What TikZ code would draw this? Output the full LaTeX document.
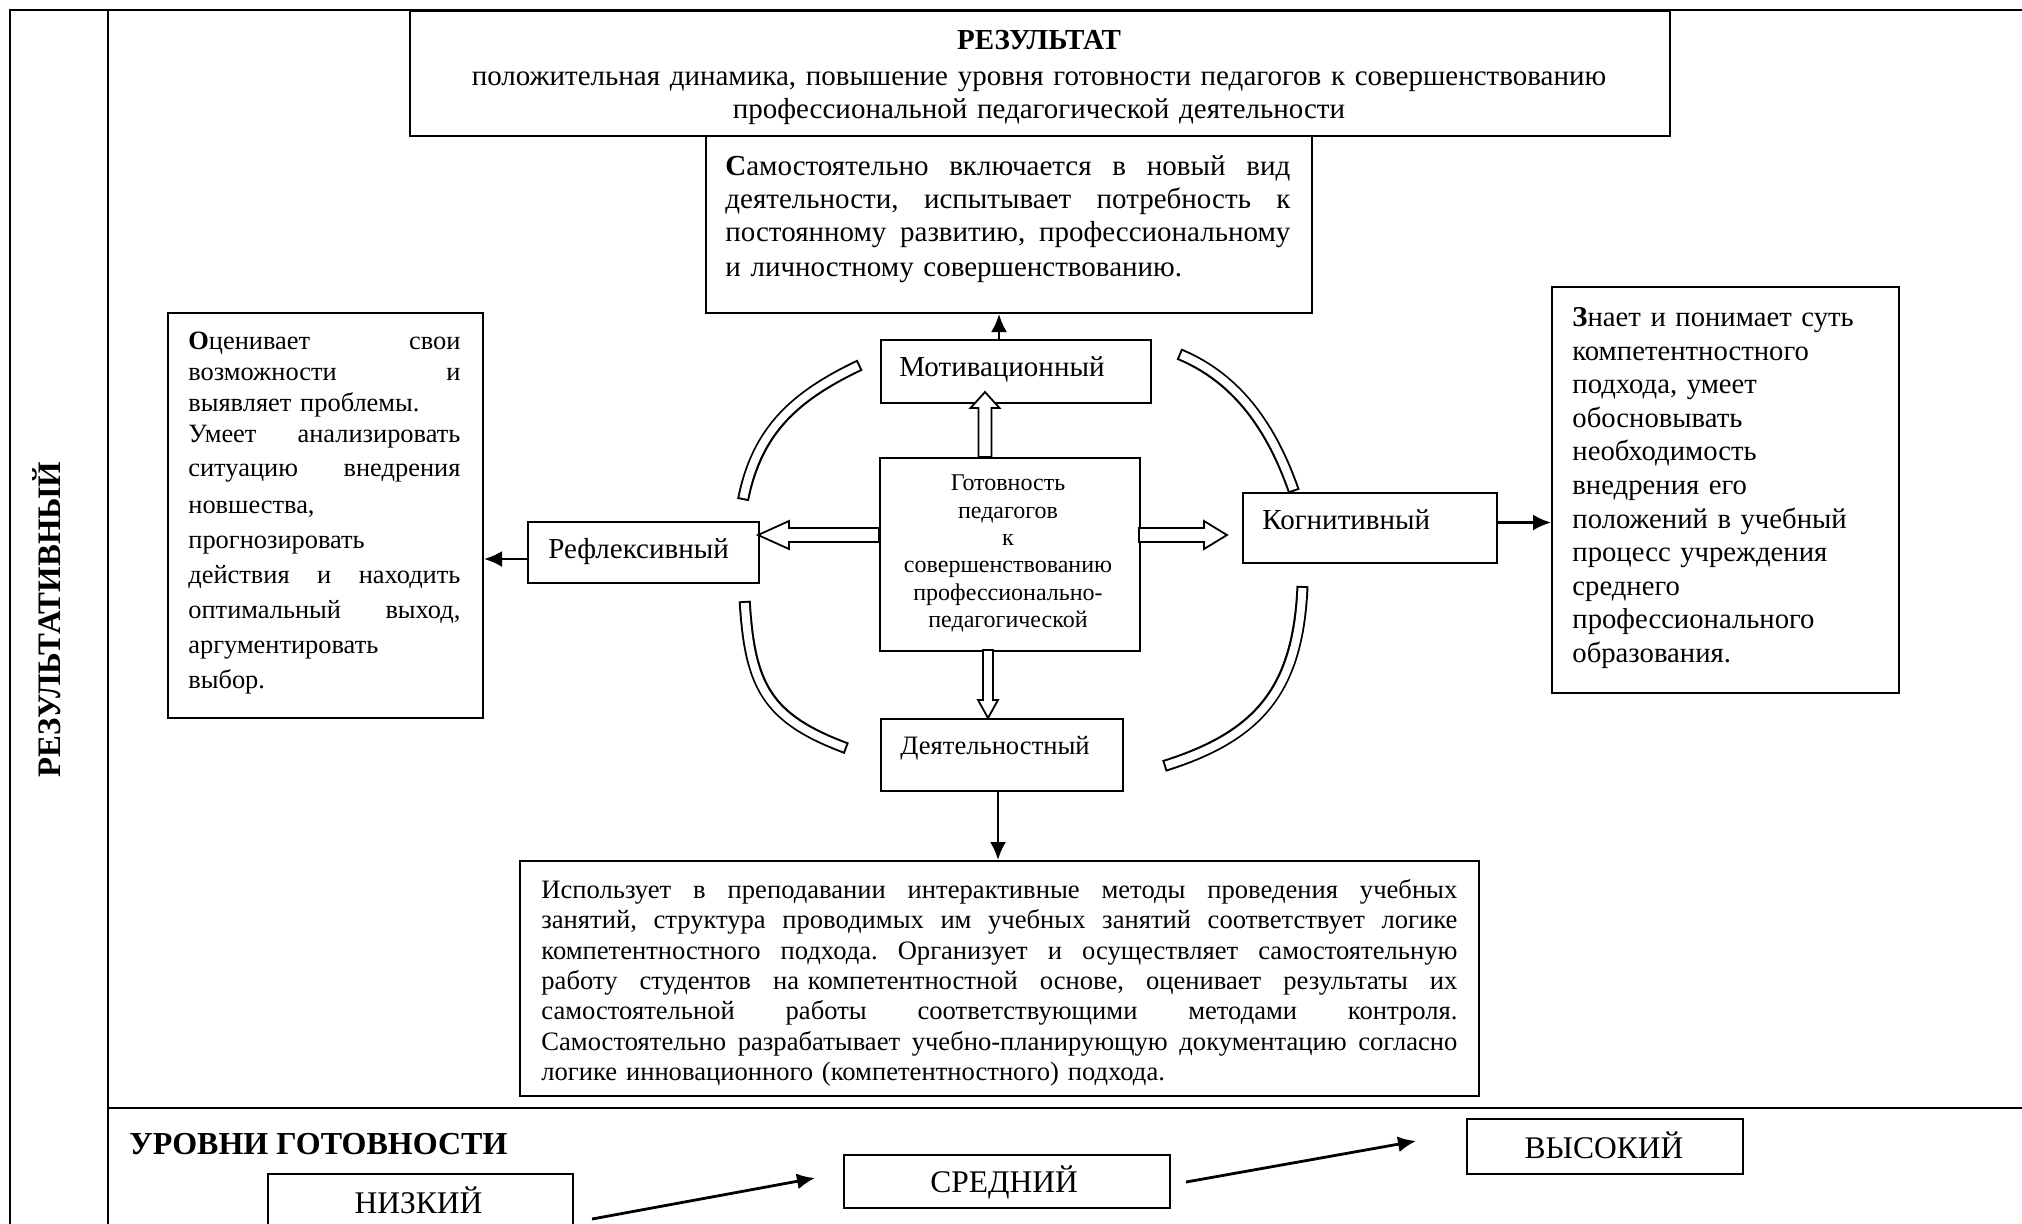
\documentclass[tikz,border=0pt]{standalone}
\usepackage{fontspec}
\setmainfont{Liberation Serif}
\usetikzlibrary{arrows.meta,calc}
\frenchspacing
\newcommand{\fs}[2]{\fontsize{#1}{#2}\selectfont}
\newcommand{\jl}[2]{\leavevmode\hbox to #1{#2}}
\newcommand{\band}[1]{\draw[line width=6pt] #1; \draw[line width=4pt, white, shorten <=1pt, shorten >=1pt] #1;}
\begin{document}
\begin{tikzpicture}[x=0.5pt,y=-0.5pt,
  boxn/.style={draw, line width=1pt, inner sep=0pt, anchor=north west},
  txt/.style={inner sep=0pt},
  frame/.style={line width=1.15pt},
  arr/.style={line width=1.25pt, -{Latex[length=9pt,width=8pt]}},
  blk/.style={draw, line width=0.9pt, fill=white, line join=miter},
  lbl/.style={inner sep=0pt, anchor=base west, font=\fs{14.5}{17}},
  lvl/.style={inner sep=0pt, anchor=base, font=\fs{15.75}{18}},
  ]
\useasboundingbox (0,0) rectangle (2022,1223);
\clip (0,0) rectangle (2022,1223);
\fill[white] (0,0) rectangle (2022,1223);

% frame
\draw[frame] (10,1240) -- (10,10) -- (2040,10);
\draw[frame] (108,10) -- (108,1240);
\draw[frame] (108,1108) -- (2040,1108);

\node[txt, rotate=90, anchor=base, font=\fs{16.4}{18}\bfseries] (vert) at (60,619.5) {РЕЗУЛЬТАТИВНЫЙ};

% boxes
\node[boxn, minimum width=630pt, minimum height=62.5pt] (res) at (409,10) {};
\node[boxn, minimum width=303pt, minimum height=88.5pt] (sam) at (705,135) {};
\node[boxn, minimum width=157.5pt, minimum height=202.5pt] (ocen) at (167,312) {};
\node[boxn, minimum width=173.5pt, minimum height=203pt] (znaet) at (1551,286) {};
\node[boxn, minimum width=135pt, minimum height=31.5pt] (motiv) at (880,339) {};
\node[boxn, minimum width=130pt, minimum height=96.5pt] (gotov) at (879,457) {};
\node[boxn, minimum width=115.5pt, minimum height=30.5pt] (refl) at (527,521) {};
\node[boxn, minimum width=127pt, minimum height=35pt] (kogn) at (1242,492) {};
\node[boxn, minimum width=121pt, minimum height=36pt] (deyat) at (880,718) {};
\node[boxn, minimum width=479.5pt, minimum height=117.5pt] (ispol) at (519,860) {};
\node[boxn, minimum width=152.5pt, minimum height=29pt] (nizk) at (267,1173) {};
\node[boxn, minimum width=163pt, minimum height=26.5pt] (sred) at (843,1154) {};
\node[boxn, minimum width=138pt, minimum height=27.5pt] (vys) at (1466,1118) {};

% texts
\node[txt, anchor=north, text width=640pt, align=center, font=\fs{14.5}{16.5}] (restext) at (1039,26)
  {\strut\textbf{РЕЗУЛЬТАТ}\\[1.5pt]
   положительная динамика, повышение уровня готовности педагогов к совершенствованию\\
   профессиональной педагогической деятельности};

\node[txt, anchor=north west, text width=282.5pt, font=\fs{14.5}{16.5}] (samtext) at (725,152)
  {\noindent\strut\jl{282.5pt}{\textbf{С}амостоятельно \hfill включается \hfill в \hfill новый \hfill вид}\\
   \jl{282.5pt}{деятельности, \hfill испытывает \hfill потребность \hfill к}\\
   \jl{282.5pt}{постоянному \hfill развитию, \hfill профессиональному}\\[1.2pt]
   и личностному совершенствованию.};

\node[txt, anchor=north west, text width=136pt, font=\fs{13.2}{15.5}] (ocentext) at (188,327.3)
  {\noindent\strut\jl{136pt}{\textbf{О}ценивает \hfill свои}\\
   \jl{136pt}{возможности \hfill и}\\
   выявляет проблемы.\\
   \jl{136pt}{Умеет \hfill анализировать}\\[1.5pt]
   \jl{136pt}{ситуацию \hfill внедрения}\\[3pt]
   новшества,\\[2pt]
   прогнозировать\\[2pt]
   \jl{136pt}{действия \hfill и \hfill находить}\\[2pt]
   \jl{136pt}{оптимальный \hfill выход,}\\[2pt]
   аргументировать\\[2pt]
   выбор.};

\node[txt, anchor=north west, text width=160pt, align=left, font=\fs{14.35}{16.8}] (znaettext) at (1572,302.5)
  {\strut\textbf{З}нает и понимает суть\\
   компетентностного\\
   подхода, умеет\\
   обосновывать\\
   необходимость\\
   внедрения его\\
   положений в учебный\\
   процесс учреждения\\
   среднего\\
   профессионального\\
   образования.};

\node[txt, anchor=north west, text width=458pt, font=\fs{13.3}{15.15}] (ispoltext) at (541,877)
  {\noindent\strut\jl{458pt}{Использует \hfill в \hfill преподавании \hfill интерактивные \hfill методы \hfill проведения \hfill учебных}\\
   \jl{458pt}{занятий, \hfill структура \hfill проводимых \hfill им \hfill учебных \hfill занятий \hfill соответствует \hfill логике}\\
   \jl{458pt}{компетентностного \hfill подхода. \hfill Организует \hfill и \hfill осуществляет \hfill самостоятельную}\\
   \jl{458pt}{работу \hfill студентов \hfill на компетентностной \hfill основе, \hfill оценивает \hfill результаты \hfill их}\\
   \jl{458pt}{самостоятельной \hfill работы \hfill соответствующими \hfill методами \hfill контроля.}\\
   \jl{458pt}{Самостоятельно \hfill разрабатывает \hfill учебно-планирующую \hfill документацию \hfill согласно}\\
   логике инновационного (компетентностного) подхода.};

\node[txt, anchor=north, text width=125pt, align=center, font=\fs{12}{13.7}] (gotovtext) at (1008,471.2)
  {\strut Готовность\\ педагогов\\ к\\ совершенствованию\\ профессионально-\\ педагогической};

\node[lbl] (motivtext) at (899,376) {Мотивационный};
\node[lbl] (refltext) at (548,558) {Рефлексивный};
\node[lbl] (kogntext) at (1262,529) {Когнитивный};
\node[lbl, font=\fs{13.3}{16}] (deyattext) at (900,754) {Деятельностный};

\node[txt, anchor=base west, font=\fs{16}{18}\bfseries] (urovni) at (129,1154) {УРОВНИ ГОТОВНОСТИ};
\node[lvl] (nizktext) at (418.5,1213) {НИЗКИЙ};
\node[lvl] (sredtext) at (1004,1192) {СРЕДНИЙ};
\node[lvl] (vystext) at (1604,1158) {ВЫСОКИЙ};

% block arrows from the centre
\draw[blk] (879,528) -- (789,528) -- (789,521) -- (758,535) -- (789,549) -- (789,542) -- (879,542) -- cycle;
\draw[blk] (1139,528) -- (1204,528) -- (1204,521) -- (1227,535) -- (1204,549) -- (1204,542) -- (1139,542) -- cycle;
\draw[blk] (978.5,457) -- (978.5,408) -- (970.5,408) -- (985,392) -- (999.5,408) -- (991.5,408) -- (991.5,457) -- cycle;
\draw[blk] (983,650) -- (983,700) -- (978,700) -- (988,718) -- (998,700) -- (993,700) -- (993,650) -- cycle;

% curved bands
\band{(860,365) .. controls (795,396) and (757,430) .. (743,500)}
\band{(1179,354) .. controls (1239,379) and (1272.5,430) .. (1294,491.5)}
\band{(744.7,601) .. controls (749.8,686) and (766.8,718.5) .. (846.7,748.3)}
\band{(1302.5,586) .. controls (1298,690) and (1259,736) .. (1164,766)}

% connectors
\draw[arr] ([xshift=-8.5pt]motiv.north) -- ([xshift=-8.5pt]motiv.north |- sam.south);
\draw[arr] ([yshift=-3.25pt]refl.west) -- ([yshift=-3.25pt]refl.west -| ocen.east);
\draw[arr] ([yshift=2.75pt]kogn.east) -- ([yshift=2.75pt]kogn.east -| znaet.west);
\draw[arr] ([xshift=-2pt]deyat.south) -- ([xshift=-2pt]deyat.south |- ispol.north);

\coordinate (n1) at ($(nizk.east)+(18,16)$);
\coordinate (s1) at ($(sred.west)+(-28,-3.5)$);
\coordinate (s2) at ($(sred.east)+(15,0.5)$);
\coordinate (v1) at ($(vys.west)+(-50,-5.5)$);
\draw[arr, line width=1.4pt] (n1) -- (s1);
\draw[arr, line width=1.4pt] (s2) -- (v1);
\end{tikzpicture}
\end{document}
